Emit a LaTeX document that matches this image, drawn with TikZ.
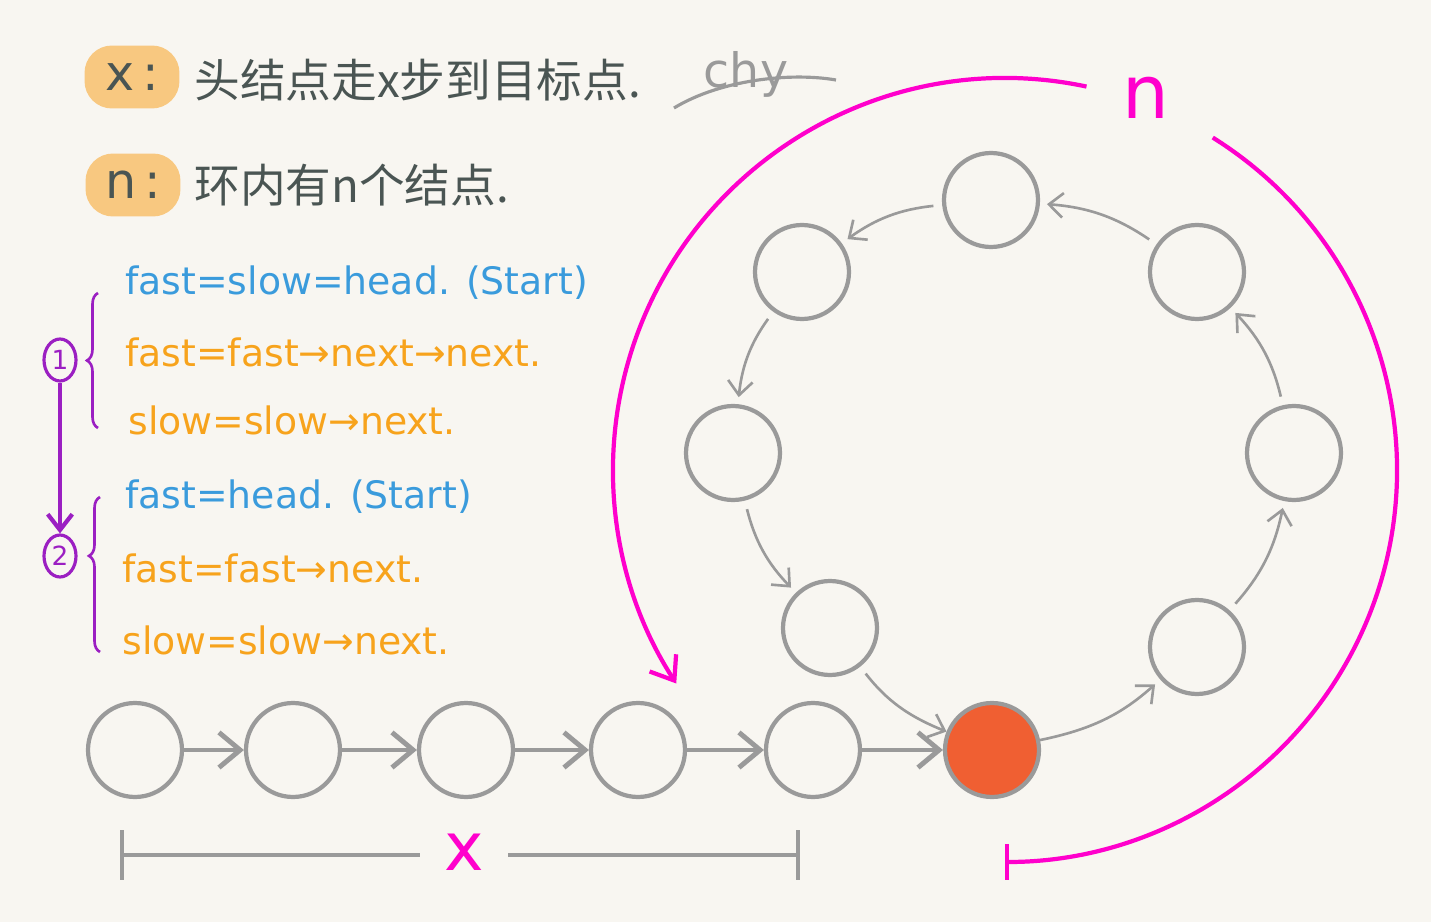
\documentclass[tikz,border=0pt]{standalone}
\usepackage{fontspec}
\setmainfont{DejaVu Sans}
\newfontfamily\cjk{Noto Sans CJK SC}
\usetikzlibrary{shapes.geometric, arrows.meta, decorations.pathreplacing, calc}

\definecolor{paper}{HTML}{F8F6F1}
\definecolor{nodegray}{HTML}{9A9A9A}
\definecolor{hitred}{HTML}{F05F32}
\definecolor{ringmag}{HTML}{FF00CC}
\definecolor{codeblue}{HTML}{3A9BDC}
\definecolor{codeorange}{HTML}{F7A31C}
\definecolor{steppurple}{HTML}{9B1FC2}
\definecolor{inkgray}{HTML}{4A5553}
\definecolor{tagorange}{HTML}{F8C880}

\begin{document}
\begin{tikzpicture}[x=0.02cm, y=-0.02cm]
    \tikzstyle{lnode} = [circle, minimum size=1.88cm, inner sep=0pt, draw=nodegray, line width=2.4pt, fill=paper]
    \tikzstyle{hit} = [lnode, fill=hitred]
    \tikzstyle{tag} = [rectangle, rounded corners=0.55cm, minimum width=1.9cm, minimum height=1.26cm, fill=tagorange, text=inkgray, font=\fontsize{28}{32}\selectfont]
    \tikzstyle{note} = [anchor=west, inner sep=0pt, text=inkgray, font=\fontsize{26}{30}\selectfont\cjk]
    \tikzstyle{code} = [anchor=west, inner sep=0pt, font=\fontsize{21.5}{25}\selectfont]
    \tikzstyle{stepnum} = [ellipse, draw=steppurple, line width=1.8pt, minimum width=0.64cm, minimum height=0.84cm, inner sep=0pt, text=steppurple, font=\fontsize{15}{17}\selectfont]
    \tikzstyle{arrow} = [line width=2.8pt, draw=nodegray, -{Straight Barb[length=12pt, width=20pt]}]
    \tikzstyle{ringarrow} = [line width=1.5pt, draw=nodegray, -{Straight Barb[length=8pt, width=14pt]}, bend right=15, shorten <=5pt, shorten >=4pt]
    \tikzstyle{ringarc} = [line width=2.4pt, draw=ringmag]
    \tikzstyle{brace} = [line width=1.5pt, draw=steppurple, decorate]
    \tikzstyle{measure} = [line width=2.4pt, draw=nodegray]

    % Paper
    \fill[paper] (0,0) rectangle (1431,922);
    \useasboundingbox (0,0) rectangle (1431,922);

    % Notes
    \node (xtag) [tag] at (132,77) {x\,:};
    \node (xnote) [note] at (194,80) {头结点走x步到目标点.};
    \node (ntag) [tag] at (133,185) {n\,:};
    \node (nnote) [note] at (194,185) {环内有n个结点.};
    \node (sign) [text=nodegray, font=\fontsize{27}{30}\selectfont] at (746,74) {chy};
    \draw[nodegray, line width=1.8pt] (674,108) .. controls (720,80) and (790,72) .. (836,80);

    % Code
    \node (c1) [code, text=codeblue] at (125,283) {fast=slow=head. (Start)};
    \node (c2) [code, text=codeorange] at (125,352) {fast=fast→next→next.};
    \node (c3) [code, text=codeorange] at (128,420) {slow=slow→next.};
    \node (c4) [code, text=codeblue] at (125,497) {fast=head. (Start)};
    \node (c5) [code, text=codeorange] at (122,568) {fast=fast→next.};
    \node (c6) [code, text=codeorange] at (122,640) {slow=slow→next.};
    \node (one) [stepnum] at (60,360) {1};
    \node (two) [stepnum] at (60,556) {2};
    \draw [line width=2.4pt, draw=steppurple, -{Straight Barb[length=9pt, width=14pt]}] (one) -- (two);
    \coordinate (b1top) at (98,293);
    \coordinate (b1bot) at (98,428);
    \coordinate (b2top) at (100,497);
    \coordinate (b2bot) at (100,652);
    \draw [brace, decoration={brace, amplitude=0.22cm, aspect=0.5}] (b1bot) -- (b1top);
    \draw [brace, decoration={brace, amplitude=0.22cm, aspect=0.62}] (b2bot) -- (b2top);

    % Nodes
    \node (r1) [lnode] at (135,750) {};
    \node (r2) [lnode] at (293,750) {};
    \node (r3) [lnode] at (466,750) {};
    \node (r4) [lnode] at (638,750) {};
    \node (r5) [lnode] at (813,750) {};
    \node (meet) [hit] at (992,750) {};
    \node (k1) [lnode] at (1197,647) {};
    \node (k2) [lnode] at (1294,453) {};
    \node (k3) [lnode] at (1197,272) {};
    \node (k4) [lnode] at (991,200) {};
    \node (k5) [lnode] at (802,272) {};
    \node (k6) [lnode] at (733,453) {};
    \node (k7) [lnode] at (830,628) {};

    % Arrows
    \draw [arrow] (r1) -- (r2);
    \draw [arrow] (r2) -- (r3);
    \draw [arrow] (r3) -- (r4);
    \draw [arrow] (r4) -- (r5);
    \draw [arrow] (r5) -- (meet);
    \draw [ringarrow, shorten <=0pt] (meet) to (k1);
    \draw [ringarrow] (k1) to (k2);
    \draw [ringarrow] (k2) to (k3);
    \draw [ringarrow] (k3) to (k4);
    \draw [ringarrow] (k4) to (k5);
    \draw [ringarrow] (k5) to (k6);
    \draw [ringarrow] (k6) to (k7);
    \draw [ringarrow, shorten >=0pt] (k7) to (meet);

    % Loop size n
    \coordinate (ringc) at (1005,470);
    \draw [ringarc, -{Straight Barb[length=12pt, width=18pt]}] ([shift={(-78:392)}]ringc) arc[start angle=-78, end angle=-213, radius=392];
    \draw [ringarc, -{Bar[width=20pt]}] ([shift={(-58:392)}]ringc) arc[start angle=-58, end angle=90, radius=392];
    \node (nlabel) [text=ringmag, font=\fontsize{42}{46}\selectfont] at (1146,98) {n};

    % Distance x
    \coordinate (xl) at (120,855);
    \coordinate (xr) at (800,855);
    \node (xlabel) [text=ringmag, minimum width=1.76cm, inner sep=0pt, font=\fontsize{38}{42}\selectfont] at (464,852) {x};
    \draw [measure, {Bar[width=28pt]}-] (xl) -- (xlabel.west |- xl);
    \draw [measure, -{Bar[width=28pt]}] (xlabel.east |- xr) -- (xr);
\end{tikzpicture}
\end{document}
